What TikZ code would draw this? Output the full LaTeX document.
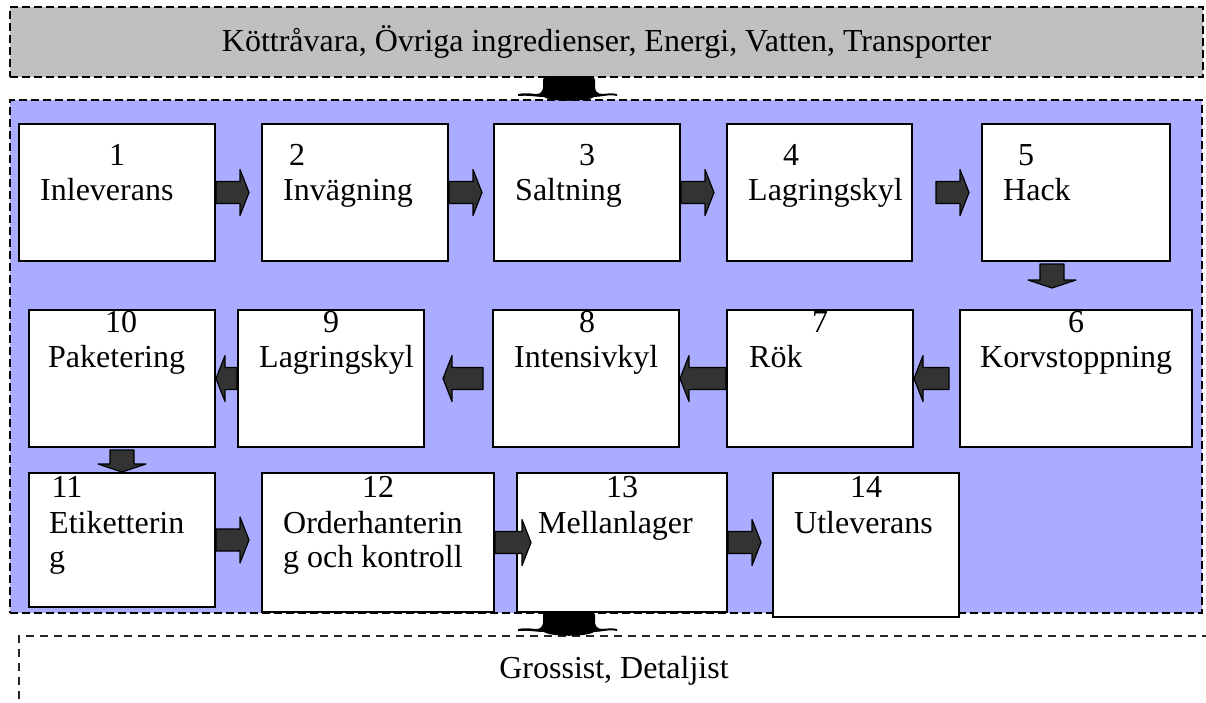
\documentclass[tikz,border=0pt]{standalone}
\usepackage{fontspec}
\setmainfont{Liberation Serif}
\usetikzlibrary{calc}

\definecolor{plantblue}{RGB}{170,173,255}
\definecolor{supplygray}{RGB}{192,192,192}
\definecolor{arrowgray}{RGB}{51,51,51}

\tikzset{
  frame/.style={draw=black, line width=2.4pt, dash pattern=on 8pt off 4pt},
  procbox/.style={draw=black, line width=2pt, fill=white, inner sep=0pt},
  lbl/.style={inner sep=0pt, font=\fontsize{32}{37}\selectfont},
  blockarrow/.style={fill=arrowgray, draw=black, line width=1.2pt, line join=round},
}

% block arrows: #1 = tail point, #2 = tip point
\newcommand\arrowR[2]{\filldraw[blockarrow] let \p1=#1, \p2=#2 in
  (\x1,\y1+11pt) -- (\x2-9pt,\y1+11pt) -- (\x2-9pt,\y1+23pt) -- (\x2,\y1)
  -- (\x2-9pt,\y1-23pt) -- (\x2-9pt,\y1-11pt) -- (\x1,\y1-11pt) -- cycle;}
\newcommand\arrowL[2]{\filldraw[blockarrow] let \p1=#1, \p2=#2 in
  (\x1,\y1+11pt) -- (\x2+9pt,\y1+11pt) -- (\x2+9pt,\y1+23pt) -- (\x2,\y1)
  -- (\x2+9pt,\y1-23pt) -- (\x2+9pt,\y1-11pt) -- (\x1,\y1-11pt) -- cycle;}
\newcommand\arrowD[2]{\filldraw[blockarrow] let \p1=#1, \p2=#2 in
  (\x1-12pt,\y1) -- (\x1-12pt,\y2+8pt) -- (\x1-24pt,\y2+8pt) -- (\x1,\y2)
  -- (\x1+24pt,\y2+8pt) -- (\x1+12pt,\y2+8pt) -- (\x1+12pt,\y1) -- cycle;}

% squashed flow link between the stages of the chain
\newcommand\flowlink[1]{%
  \begin{scope}[shift={#1}]
    \fill[black, rounded corners=4pt]
      (-51,18) .. controls (-40,16) and (-33,19) .. (-26,16)
      -- (-26,0) -- (26,0) -- (26,16)
      [sharp corners] .. controls (34,19) and (41,16) .. (48,18)
      -- (48,20) .. controls (40,18) and (32,21) .. (25,21)
      .. controls (18,26) and (-18,26) .. (-25,21)
      .. controls (-33,21) and (-40,19) .. (-51,20) -- cycle;
  \end{scope}}

\begin{document}
\begin{tikzpicture}[x=1pt, y=-1pt]
  \useasboundingbox (0,0) rectangle (1206,702);

  % inputs
  \node[frame, fill=supplygray, minimum width=1193pt, minimum height=70pt, lbl, inner sep=0pt]
    (supply) at (606.5,42) {Köttråvara, Övriga ingredienser, Energi, Vatten, Transporter};

  % production area
  \node[frame, fill=plantblue, minimum width=1192pt, minimum height=513pt] (plant) at (606,356.5) {};

  % customers
  \draw[black!85, line width=1.6pt, dash pattern=on 8pt off 6pt] (1210,636) -- (19,636) -- (19,706);
  \node[lbl] (customer) at (614,671) {Grossist, Detaljist};

  % process steps, row 1
  \node[procbox, minimum width=196pt, minimum height=137pt] (b1) at (117,192.5) {};
  \node[procbox, minimum width=186pt, minimum height=137pt] (b2) at (355,192.5) {};
  \node[procbox, minimum width=186pt, minimum height=137pt] (b3) at (587,192.5) {};
  \node[procbox, minimum width=185pt, minimum height=137pt] (b4) at (819.5,192.5) {};
  \node[procbox, minimum width=188pt, minimum height=137pt] (b5) at (1076,192.5) {};
  % row 2
  \node[procbox, minimum width=186pt, minimum height=137pt] (b10) at (122,378.5) {};
  \node[procbox, minimum width=186pt, minimum height=137pt] (b9) at (331,378.5) {};
  \node[procbox, minimum width=186pt, minimum height=137pt] (b8) at (586,378.5) {};
  \node[procbox, minimum width=186pt, minimum height=137pt] (b7) at (820,378.5) {};
  \node[procbox, minimum width=232pt, minimum height=137pt] (b6) at (1076,378.5) {};
  % row 3
  \node[procbox, minimum width=186pt, minimum height=134pt] (b11) at (122,540) {};
  \node[procbox, minimum width=232pt, minimum height=139pt] (b12) at (378,542.5) {};
  \node[procbox, minimum width=210pt, minimum height=139pt] (b13) at (622,542.5) {};
  \node[procbox, minimum width=186pt, minimum height=144pt] (b14) at (866,545) {};

  % labels, row 1
  \node[lbl, anchor=base] (n1) at (117,165) {1};
  \node[lbl, anchor=base west] (t1) at (40,200) {Inleverans};
  \node[lbl, anchor=base] (n2) at (297,165) {2};
  \node[lbl, anchor=base west] (t2) at (283,200) {Invägning};
  \node[lbl, anchor=base] (n3) at (587,165) {3};
  \node[lbl, anchor=base west] (t3) at (515,200) {Saltning};
  \node[lbl, anchor=base] (n4) at (791,165) {4};
  \node[lbl, anchor=base west] (t4) at (748,200) {Lagringskyl};
  \node[lbl, anchor=base] (n5) at (1026,165) {5};
  \node[lbl, anchor=base west] (t5) at (1003,200) {Hack};
  % labels, row 2
  \node[lbl, anchor=base] (n10) at (121,332) {10};
  \node[lbl, anchor=base west] (t10) at (48,367) {Paketering};
  \node[lbl, anchor=base] (n9) at (331,332) {9};
  \node[lbl, anchor=base west] (t9) at (259,367) {Lagringskyl};
  \node[lbl, anchor=base] (n8) at (587,332) {8};
  \node[lbl, anchor=base west] (t8) at (514,367) {Intensivkyl};
  \node[lbl, anchor=base] (n7) at (820,332) {7};
  \node[lbl, anchor=base west] (t7) at (749,367) {Rök};
  \node[lbl, anchor=base] (n6) at (1076,332) {6};
  \node[lbl, anchor=base west] (t6) at (980,367) {Korvstoppning};
  % labels, row 3
  \node[lbl, anchor=base] (n11) at (67,497) {11};
  \node[lbl, anchor=base west] (t11a) at (49,533) {Etiketterin};
  \node[lbl, anchor=base west] (t11b) at (49,567) {g};
  \node[lbl, anchor=base] (n12) at (378,497) {12};
  \node[lbl, anchor=base west] (t12a) at (283,533) {Orderhanterin};
  \node[lbl, anchor=base west] (t12b) at (283,567) {g och kontroll};
  \node[lbl, anchor=base] (n13) at (622,497) {13};
  \node[lbl, anchor=base west] (t13) at (538,533) {Mellanlager};
  \node[lbl, anchor=base] (n14) at (866,497) {14};
  \node[lbl, anchor=base west] (t14) at (794,533) {Utleverans};

  % flow between steps
  \arrowR{(b1.east)}{($(b1.east)+(33,0)$)}
  \arrowR{(b2.east)}{($(b2.east)+(33,0)$)}
  \arrowR{(b3.east)}{($(b3.east)+(33,0)$)}
  \arrowR{($(b4.east)+(23,0)$)}{($(b4.east)+(56,0)$)}
  \arrowD{($(b5.south)+(-24,2)$)}{($(b5.south)+(-24,26)$)}
  \arrowL{($(b6.west)+(-10,0)$)}{(b7.east)}
  \arrowL{(b7.west)}{(b8.east)}
  \arrowL{($(b8.west)+(-9,0)$)}{($(b9.east)+(18,0)$)}
  \arrowL{(b9.west)}{(b10.east)}
  \arrowD{($(b10.south)+(0,2)$)}{(b11.north)}
  \arrowR{(b11.east)}{($(b11.east)+(33,0)$)}
  \arrowR{(b12.east)}{($(b12.east)+(36,0)$)}
  \arrowR{(b13.east)}{($(b13.east)+(33,0)$)}

  % links between the stages of the chain
  \coordinate (inlet) at (569,76);
  \coordinate (outlet) at (569,611);
  \flowlink{(inlet)}
  \flowlink{(outlet)}
\end{tikzpicture}
\end{document}
